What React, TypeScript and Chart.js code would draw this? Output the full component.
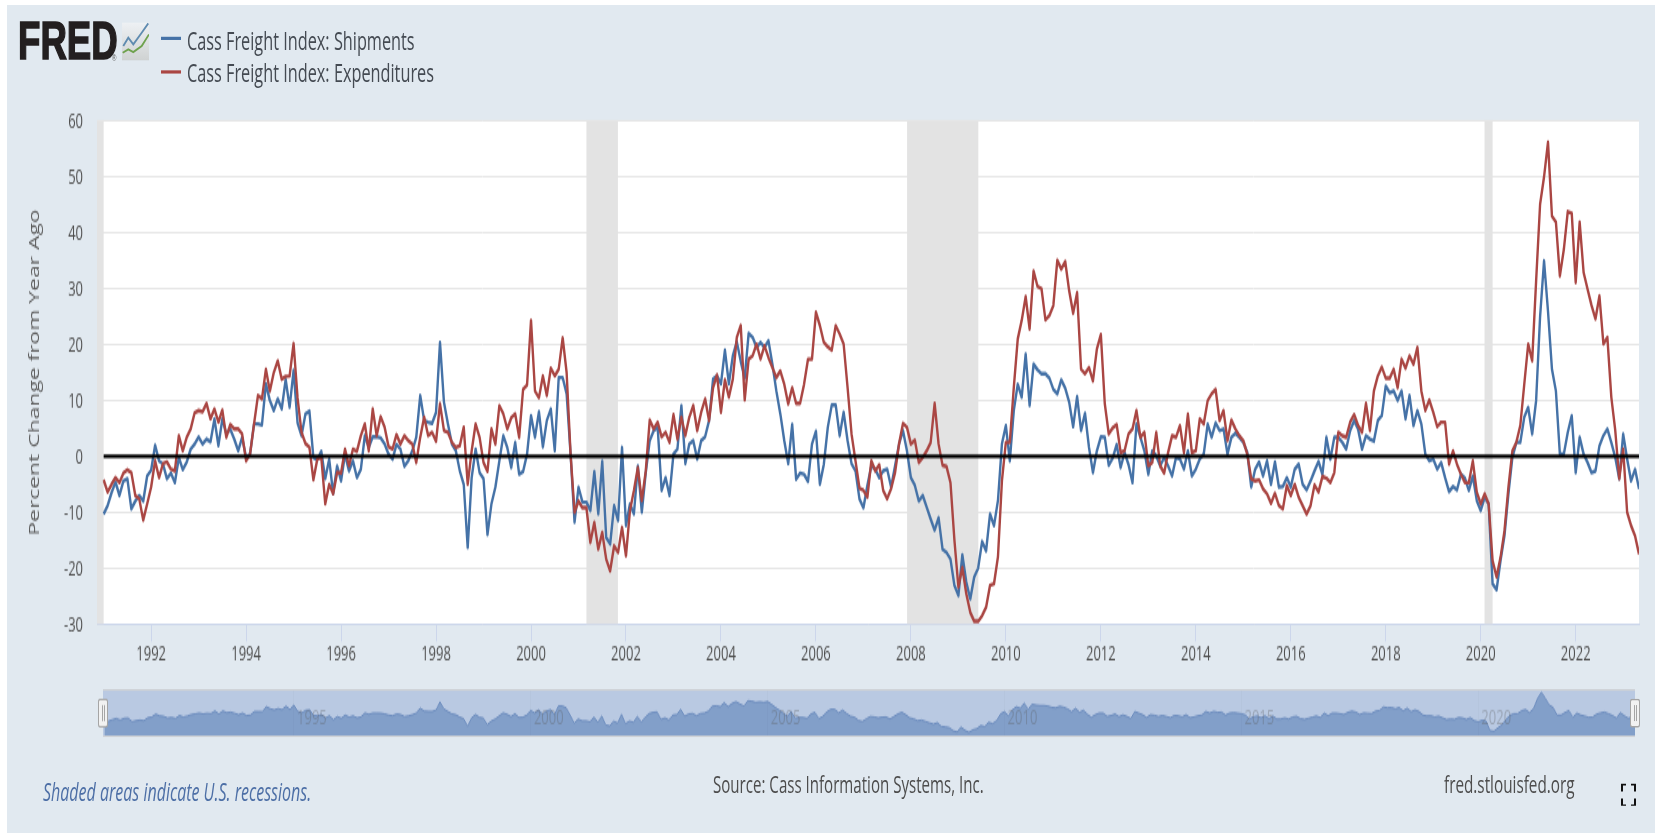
import React, { useEffect, useRef } from "react";
import Chart from "chart.js/auto";

const START_YEAR = 1991;
const shipments = [
  -10.3,-8.8,-6.5,-4.6,-7,-4.4,-4,-9.4,-8,-7,-8,-3.5,
  -2.5,2,-.8,-1.4,-4,-3,-4.7,-.2,-2.4,-1,1.3,2.2,
  3.5,2.2,3.1,2.6,6.7,1.9,6.7,4,4.9,3.1,1,3.4,
  -.2,.4,5.8,5.8,5.6,13,10,8.2,10.3,8.5,13.8,8.8,
  15.4,6,3.7,7.6,8.1,-.2,-.6,.9,-4,-.5,-6.7,-1.7,
  -4.4,.4,-2.6,-.8,-3.8,-2.3,3.7,1.6,3.5,3.5,3.3,2.2,
  .4,-.5,2.1,1.3,-1.8,-.8,1,3.4,10.9,6.4,6.1,5.9,
  7.9,20.4,9.7,5.8,2.2,1,-2.6,-5,-16.3,-3.8,1.3,-2.9,
  -4,-14,-8.5,-5.5,-.8,3.7,1.6,-2,2.5,-3.2,-2.7,.4,
  7.3,3.4,8,1.7,6.4,8.5,1,14.1,14.1,11.2,.4,-11.8,
  -5.5,-8.2,-8.2,-9.7,-2.7,-10.3,-.9,-14.5,-15.7,-8.8,-11.5,1.6,
  -12.4,-8.5,-10.3,-1.7,-10,-2.9,2.8,4.6,5.2,-6.1,-3.8,-7,
  .4,1.3,9.1,-1.3,2.2,2.8,-.5,2.8,3.5,6.4,13.8,14.4,
  13,19,13,18,20.5,17,14,22,21.3,19.5,20.4,19.5,
  20.7,16.5,11.7,7.6,2.8,-1.3,5.7,-4.1,-3,-3.2,-4.5,2.2,
  4.5,-5,-1.4,5.2,9.2,9.2,3.7,7.9,2.8,-1.3,-2.6,-7.6,
  -9.2,-5.2,-1.7,-2.3,-3.8,-2.6,-2.3,-5.5,-1.7,2.2,4.6,1,
  -3.8,-5.2,-8,-7,-9.1,-11.2,-13.2,-11,-16.6,-17.2,-18.4,-23.1,
  -24.9,-17.6,-22.5,-25.5,-21.6,-20,-15.2,-16.9,-10.3,-12.4,-7.9,2.2,
  5.5,-.8,8.2,12.9,10.6,18.3,9.1,16.5,15.5,14.8,14.8,14,
  12,11.2,13.7,12.2,9.7,5.3,10.7,4.6,7.7,1.6,-2.9,1,
  3.5,3.4,-1.6,-.3,2.1,-2,.7,-1.5,-4.7,5.8,3.4,1,
  -3.2,1,.1,-1.7,-.2,-1.7,-3.5,-.2,-.5,-2.3,1,-3.5,
  -2.3,-.5,.4,5.8,3.4,6,4.6,4.9,.4,3.4,4.1,3.4,
  2.5,.7,-5.5,-2.3,-1,-3.5,-.8,-5,-1,-5.5,-5.4,-3.8,
  -5.5,-2.3,-1.4,-5,-6,-4.4,-2.6,-.9,-3.2,3.4,-.5,3.4,
  3.4,2.5,1.3,4.6,6.4,4.9,1.3,3.7,3.1,2.7,6.4,7.3,
  12.6,11.4,11.7,10,11.7,6.7,10.9,5.5,8.2,5.8,.4,-.8,
  -.5,-2.3,-1.1,-3.8,-6.3,-5.4,-6,-3.2,-3.9,-6.1,-3.5,-7.9,
  -9.7,-7.3,-8.5,-22.8,-23.9,-18.7,-14.2,-6.7,-.2,2.5,2.5,7,
  8.8,4,10,25,35,26,15.6,11.7,.4,.4,4.3,7.3,
  -2.9,3.4,.4,-1.1,-2.9,-2.6,1.9,3.7,4.9,2.5,-.2,-4,
  4,-.5,-4.4,-2.3,-5.8,
];
const expenditures = [
  -4.2,-6.4,-5,-3.8,-4.7,-3,-2.4,-2.9,-7,-7.6,-11.4,-8.5,
  -5.5,-.8,-3.8,-1.3,-1,-2.3,-2.6,3.7,1,3.4,4.9,7.8,
  8.2,8,9.5,6.7,8.5,6.1,8.3,3.4,5.7,4.9,4.9,4,
  -.8,.4,5.8,10.9,10.3,15.6,11.7,15,17.1,13.8,14.3,14.4,
  20.2,10.5,4.3,2.3,1.6,-4.2,-.5,-.2,-8.5,-5,-6.7,-2.9,
  -3,1.3,-1.7,1.3,.9,3.7,5.8,1,8.5,3.7,7.1,5.2,
  1.7,1.3,3.9,2.2,3.7,2.8,2.2,-1.1,3.4,7,3.7,4.3,
  2.7,9.4,4.6,4.3,2.5,1.6,1.9,5.2,-5,1,5.8,3.4,
  -1.1,-2.7,4.9,2.2,9.1,7.6,4.9,6.9,7.6,3.4,12,12.8,
  24.3,11.7,10.5,14.4,10.9,15.8,14.4,15.6,21.2,15,.4,-10,
  -8,-9.2,-9.2,-15.4,-11.8,-16.6,-13.6,-18.4,-20.5,-16,-17.2,-12.7,
  -17.8,-9.7,-6.1,-2,-7.9,-2.6,6.5,4.9,6.1,3.5,4.3,2.5,
  7.5,3.1,7,3.7,7,9.1,4.6,7.9,10.3,6.4,12.3,14.6,
  7.9,13.7,10.6,13.8,21.3,23.4,10.1,17.4,18,20.1,17.4,19.8,
  17.7,15.9,14.1,15.3,12.9,9.4,12.3,9.5,9.5,12.9,17.4,17.4,
  25.8,23.4,20.4,19.6,19,23.4,21.9,20.1,12.3,4,-.8,-5.7,
  -6.1,-7.3,-.8,-2.6,-1.5,-6.1,-7.6,-5.8,-2.9,2.2,5.9,5.2,
  2.2,2.9,-1.1,-.2,1,2.5,9.5,2.2,-1.6,-1.8,-4.7,-15,
  -23.4,-19.9,-24.6,-27.9,-29.5,-29.5,-28.5,-27,-23.1,-22.8,-18,-4.4,
  2.5,2.5,12.3,21,24.3,28.6,22.8,33.2,30.4,30,24.4,25.2,
  27,35.1,33.5,34.9,29.6,25.6,29.3,15.6,14.8,15.9,13.5,19.2,
  21.8,9.4,4,5.1,5.7,.7,1,4,4.9,8.2,3.4,4.3,
  -1.7,-1.1,4.3,-1.7,-3,.7,3.7,3.4,5.5,.7,7.6,.7,
  1,6.7,5.8,10,11.2,12,6.4,8.2,2.8,6.5,4.9,3.7,
  2.8,.4,-4,-4.4,-4.2,-5.8,-6.7,-8.4,-6.6,-8.8,-9.4,-5.2,
  -7,-5,-7.3,-8.8,-10.3,-8.8,-5.1,-6.4,-3.6,-3.9,-4.7,-2.9,
  4.3,3.7,3.4,6.1,7.5,5.5,4.3,9.5,4.6,11.7,14.4,16,
  14,14,15.6,12.3,17.4,15.8,18,16.5,19.5,11.7,8.2,10.1,
  7.9,5.3,6.1,6.1,-1.4,1,-1.4,-3.2,-4.7,-4.7,-.8,-6.4,
  -8.5,-6.7,-8.5,-18.7,-21.6,-18.1,-13.3,-5.5,1,2.5,5.5,12.9,
  20.1,17.1,31.4,45.1,50,56.2,43,41.9,32.3,37,43.8,43.5,
  31.1,41.9,32.9,29.9,27,24.6,28.7,20.1,21.3,10.6,4.6,-4,
  1.3,-10,-12.4,-14.2,-17.5,
];
const recessionStarts = [1990.5, 2001.167, 2007.92, 2020.08];
const recessionEnds = [1991.0, 2001.83, 2009.42, 2020.25];
const axisYears = [1992,1994,1996,1998,2000,2002,2004,2006,2008,2010,2012,2014,2016,2018,2020,2022];
const navigatorYears = [1995,2000,2005,2010,2015,2020];
const seriesNames = ["Cass Freight Index: Shipments", "Cass Freight Index: Expenditures"];

const STAGE_H = 521;
const K = 833 / STAGE_H; // source image is stretched vertically
const FONT = '"Open Sans", sans-serif';
const toPoints = (vals: number[]) => vals.map((y, i) => ({ x: START_YEAR + i / 12, y }));
const Y = (v: number) => v / K;

const Txt = ({ x, cy, size, color, children, italic }: any) => (
  <div style={{ position: "absolute", left: x, top: Y(cy) - 12, lineHeight: "24px", height: 24, fontFamily: FONT, fontSize: size, color, whiteSpace: "nowrap", fontStyle: italic ? "italic" : "normal" }}>{children}</div>
);

const Handle = ({ x }: { x: number }) => (
  <div style={{ position: "absolute", left: x, top: Y(699), width: 10, height: Y(29), boxSizing: "border-box", background: "#f2f2f2", border: "1px solid #a5a5a5", borderRadius: 2 }}>
    <div style={{ position: "absolute", left: 2.5, top: 3, bottom: 3, width: 1, background: "#a5a5a5" }} />
    <div style={{ position: "absolute", left: 5, top: 3, bottom: 3, width: 1, background: "#a5a5a5" }} />
  </div>
);

export default function App() {
  const mainRef = useRef<HTMLCanvasElement>(null);
  const navRef = useRef<HTMLCanvasElement>(null);

  useEffect(() => {
    const plotBack = {
      id: "plotBack",
      beforeDraw(c: any) {
        const a = c.chartArea;
        c.ctx.save();
        c.ctx.fillStyle = "#ffffff";
        c.ctx.fillRect(a.left, a.top, a.right - a.left, a.bottom - a.top);
        c.ctx.restore();
      },
    };
    const bands = {
      id: "bands",
      beforeDatasetsDraw(c: any) {
        const a = c.chartArea;
        const xs = c.scales.x;
        c.ctx.save();
        c.ctx.fillStyle = "#e3e3e3";
        recessionStarts.forEach((s, i) => {
          const l = Math.max(a.left, xs.getPixelForValue(s));
          const r = xs.getPixelForValue(recessionEnds[i]);
          c.ctx.fillRect(l, a.top, r - l, a.bottom - a.top);
        });
        c.ctx.restore();
      },
    };
    const lineStyle = { borderWidth: 2.4, pointRadius: 0, tension: 0, borderJoinStyle: "round" };
    const main = new Chart(mainRef.current!, {
      type: "line",
      data: {
        datasets: [
          { label: "Zero", data: [{ x: START_YEAR, y: 0 }, { x: 2023.34, y: 0 }], borderColor: "#000000", borderWidth: 2.2, pointRadius: 0 },
          { label: seriesNames[1], data: toPoints(expenditures), borderColor: "#aa4643", ...lineStyle },
          { label: seriesNames[0], data: toPoints(shipments), borderColor: "#4572a7", ...lineStyle },
        ],
      },
      options: {
        animation: false,
        responsive: false,
        devicePixelRatio: 1,
        layout: { padding: { left: 0, top: 121 / K, right: 16, bottom: STAGE_H - 624 / K - 60 } },
        plugins: { legend: { display: false }, tooltip: { enabled: false } },
        scales: {
          x: {
            type: "linear",
            min: 1990.86,
            max: 2023.333,
            afterBuildTicks: (s: any) => { s.ticks = axisYears.map((value) => ({ value })); },
            afterFit: (s: any) => { s.height = 60; },
            grid: { drawOnChartArea: false, drawTicks: true, tickLength: 11, tickColor: "#ccd6eb", lineWidth: 1 },
            border: { color: "#ccd6eb", width: 1 },
            ticks: { autoSkip: false, maxRotation: 0, padding: 0, color: "#4f4f4f", font: { family: FONT, size: 13 }, callback: (v: any) => String(v) },
          },
          y: {
            min: -30,
            max: 60,
            afterFit: (s: any) => { s.width = 97; },
            grid: { color: "#e6e6e6", drawTicks: false, lineWidth: 1 },
            border: { display: false },
            ticks: { stepSize: 10, padding: 14, labelOffset: 1, color: "#4f4f4f", font: { family: FONT, size: 13 } },
            title: { display: true, text: "Percent Change from Year Ago", color: "#5c5c5c", font: { family: FONT, size: 14.3 }, padding: { top: 26, bottom: 0 } },
          },
        },
      },
      plugins: [plotBack, bands],
    } as any);

    const navBack = {
      id: "navBack",
      beforeDraw(c: any) {
        const g = c.ctx;
        g.save();
        g.fillStyle = "#b9c9e2";
        g.fillRect(0, 0, c.width, c.height);
        g.restore();
      },
      afterDraw(c: any) {
        const g = c.ctx;
        g.save();
        g.fillStyle = "#cfd2d6";
        g.fillRect(0, 0, c.width, 1);
        g.fillRect(0, c.height - 1, c.width, 1);
        g.restore();
      },
    };
    const nav = new Chart(navRef.current!, {
      type: "line",
      data: {
        datasets: [
          { label: "Navigator", data: toPoints(shipments), borderColor: "#6d8dbf", borderWidth: 1, backgroundColor: "#829fc9", fill: "start", pointRadius: 0, tension: 0 },
        ],
      },
      options: {
        animation: false,
        responsive: false,
        devicePixelRatio: 1,
        layout: { padding: 0 },
        plugins: { legend: { display: false }, tooltip: { enabled: false } },
        scales: {
          x: {
            type: "linear",
            min: 1990.97,
            max: 2023.31,
            afterBuildTicks: (s: any) => { s.ticks = navigatorYears.map((value) => ({ value })); },
            afterFit: (s: any) => { s.height = 0; },
            grid: { drawTicks: false, color: "rgba(0,0,0,0.02)", z: 1 },
            border: { display: false },
            ticks: { z: 2, mirror: true, autoSkip: false, maxRotation: 0, padding: 4.4, labelOffset: 18, color: "rgba(90,90,90,0.32)", font: { family: FONT, size: 13 }, callback: (v: any) => String(v) },
          },
          y: { display: false, min: -32.5, max: 39.5 },
        },
      },
      plugins: [navBack],
    } as any);
    return () => { main.destroy(); nav.destroy(); };
  }, []);

  return (
    <div style={{ position: "fixed", left: 0, top: 0, width: 1655, height: 833, overflow: "hidden", background: "#fff" }}>
      <div style={{ position: "absolute", left: 7, top: 5, right: 0, bottom: 0, background: "#e1e9f0" }} />
      <div style={{ position: "absolute", left: 0, top: 0, width: 1655, height: STAGE_H, transform: `scaleY(${K})`, transformOrigin: "0 0", filter: "blur(0.4px)" }}>
        <canvas ref={mainRef} width={1655} height={STAGE_H} style={{ position: "absolute", left: 0, top: 0, display: "block" }} />
        <canvas ref={navRef} width={1532} height={30} style={{ position: "absolute", left: 103, top: Y(689), display: "block" }} />
        <Handle x={98} />
        <Handle x={1630} />

        <div style={{ position: "absolute", left: 17.5, top: Y(41) - 18, height: 36, lineHeight: "36px", fontFamily: '"Liberation Sans", sans-serif', fontWeight: 700, fontSize: 33, color: "#231f20", WebkitTextStroke: "1px #231f20", transform: "scaleX(1.11)", transformOrigin: "0 50%" }}>FRED</div>
        <div style={{ position: "absolute", left: 112, top: Y(57) - 4, height: 8, lineHeight: "8px", fontFamily: '"Liberation Sans", sans-serif', fontSize: 6, color: "#555" }}>®</div>
        <svg viewBox="0 0 27 38" preserveAspectRatio="none" style={{ position: "absolute", left: 122, top: Y(23), width: 27, height: Y(38) }}>
          <defs>
            <linearGradient id="icoBg" x1="0" y1="0" x2="0" y2="1">
              <stop offset="0" stopColor="#eef1f4" />
              <stop offset="1" stopColor="#cfd2d2" />
            </linearGradient>
          </defs>
          <rect x="0" y="0" width="27" height="38" fill="url(#icoBg)" />
          <polyline points="1.3,23.7 6.3,15.3 11.3,22 19.7,10.3 26.3,1" fill="none" stroke="#5f8bb0" strokeWidth="1.8" />
          <polyline points="0.7,30.3 6.3,27 11.3,29.7 19.7,23.7 27,12" fill="none" stroke="#6fa24e" strokeWidth="1.8" />
        </svg>

        <div style={{ position: "absolute", left: 161, top: Y(37.5), width: 20, height: Y(3), background: "#4572a7" }} />
        <div style={{ position: "absolute", left: 161, top: Y(70), width: 20, height: Y(3), background: "#aa4643" }} />
        <Txt x={187} cy={39.5} size={16.3} color="#444a52">{seriesNames[0]}</Txt>
        <Txt x={187} cy={72} size={16.3} color="#444a52">{seriesNames[1]}</Txt>

        <Txt x={43} cy={792} size={16} color="#4d6fa6" italic>Shaded areas indicate U.S. recessions.</Txt>
        <Txt x={713} cy={783} size={15.1} color="#4d4d4d">Source: Cass Information Systems, Inc.</Txt>
        <Txt x={1444} cy={783} size={15.3} color="#4d4d4d">fred.stlouisfed.org</Txt>
        <svg viewBox="0 0 15 23" preserveAspectRatio="none" style={{ position: "absolute", left: 1621, top: Y(783), width: 15, height: Y(23) }}>
          <path d="M1 8V1H5M10 1H14V8M1 15V22H5M14 15V22H10" fill="none" stroke="#111" strokeWidth="2" />
        </svg>
      </div>
    </div>
  );
}
